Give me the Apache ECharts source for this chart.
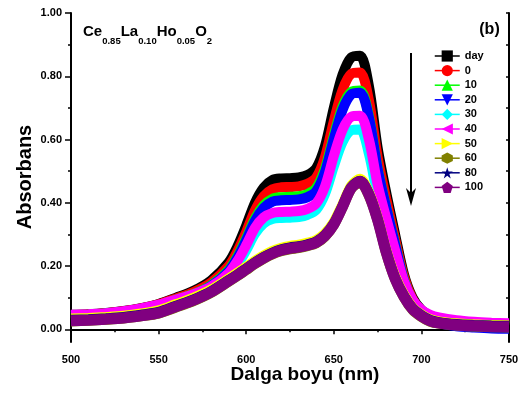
<!DOCTYPE html>
<html>
<head>
<meta charset="utf-8">
<script src="https://cdn.jsdelivr.net/npm/echarts@6/dist/echarts.min.js"></script>
<style>
html, body { margin: 0; padding: 0; background: #fff; }
#chart { width: 522px; height: 394px; }
</style>
</head>
<body>
<div id="chart"></div>
<script>
var wavelength = [500, 510, 520, 530, 540, 550, 560, 570, 580, 590, 595, 600, 605, 610, 615, 620, 625, 630, 635, 640,
  645, 650, 655, 660, 665, 670, 675, 680, 685, 690, 695, 700, 705, 710, 720, 730, 740, 750];

var dayVals = [0.046, 0.048, 0.052, 0.058, 0.067, 0.080, 0.100, 0.122, 0.155, 0.212, 0.262, 0.328, 0.400, 0.448, 0.472, 0.477, 0.478, 0.480, 0.488, 0.510,
  0.580, 0.700, 0.805, 0.860, 0.865, 0.770, 0.575, 0.430, 0.300, 0.175, 0.100, 0.062, 0.044, 0.034, 0.025, 0.021, 0.018, 0.016];
var d0 = [0.045, 0.047, 0.051, 0.057, 0.066, 0.079, 0.098, 0.118, 0.148, 0.200, 0.247, 0.308, 0.376, 0.421, 0.443, 0.449, 0.450, 0.452, 0.460, 0.480,
  0.545, 0.658, 0.757, 0.808, 0.812, 0.725, 0.545, 0.410, 0.285, 0.167, 0.095, 0.058, 0.040, 0.031, 0.022, 0.018, 0.015, 0.013];
var d10 = [0.044, 0.046, 0.050, 0.055, 0.064, 0.076, 0.094, 0.112, 0.140, 0.188, 0.231, 0.288, 0.350, 0.392, 0.413, 0.418, 0.419, 0.421, 0.428, 0.447,
  0.508, 0.612, 0.704, 0.751, 0.755, 0.676, 0.510, 0.385, 0.270, 0.158, 0.090, 0.054, 0.037, 0.028, 0.019, 0.015, 0.012, 0.010];
var d20 = [0.043, 0.045, 0.049, 0.054, 0.063, 0.075, 0.092, 0.110, 0.137, 0.184, 0.226, 0.282, 0.343, 0.384, 0.404, 0.408, 0.409, 0.411, 0.418, 0.437,
  0.498, 0.602, 0.694, 0.743, 0.748, 0.671, 0.508, 0.383, 0.268, 0.155, 0.086, 0.048, 0.030, 0.020, 0.010, 0.006, 0.003, 0.002];
var d30 = [0.044, 0.046, 0.049, 0.054, 0.062, 0.073, 0.088, 0.104, 0.127, 0.168, 0.204, 0.250, 0.302, 0.335, 0.349, 0.352, 0.353, 0.355, 0.362, 0.378,
  0.428, 0.515, 0.592, 0.629, 0.632, 0.556, 0.420, 0.318, 0.225, 0.133, 0.078, 0.048, 0.034, 0.026, 0.019, 0.016, 0.014, 0.013];
var d40 = [0.046, 0.048, 0.051, 0.057, 0.066, 0.078, 0.094, 0.111, 0.135, 0.178, 0.216, 0.266, 0.321, 0.354, 0.368, 0.371, 0.372, 0.374, 0.381, 0.398,
  0.452, 0.548, 0.631, 0.672, 0.675, 0.601, 0.458, 0.350, 0.250, 0.152, 0.093, 0.062, 0.046, 0.038, 0.029, 0.024, 0.021, 0.019];
var d50 = [0.034, 0.036, 0.039, 0.043, 0.050, 0.060, 0.080, 0.100, 0.126, 0.161, 0.179, 0.198, 0.217, 0.234, 0.248, 0.258, 0.264, 0.268, 0.274, 0.283,
  0.304, 0.340, 0.396, 0.455, 0.476, 0.434, 0.354, 0.250, 0.168, 0.111, 0.070, 0.047, 0.032, 0.025, 0.019, 0.016, 0.014, 0.013];
var d60 = [0.025, 0.027, 0.030, 0.034, 0.041, 0.050, 0.069, 0.089, 0.115, 0.150, 0.168, 0.187, 0.206, 0.223, 0.237, 0.247, 0.253, 0.257, 0.263, 0.272,
  0.293, 0.329, 0.385, 0.444, 0.464, 0.422, 0.343, 0.238, 0.157, 0.101, 0.061, 0.039, 0.024, 0.018, 0.012, 0.009, 0.007, 0.006];
var d80 = [0.030, 0.032, 0.035, 0.039, 0.046, 0.055, 0.075, 0.095, 0.121, 0.156, 0.174, 0.193, 0.212, 0.229, 0.243, 0.253, 0.259, 0.263, 0.269, 0.278,
  0.299, 0.335, 0.391, 0.450, 0.470, 0.429, 0.349, 0.245, 0.163, 0.107, 0.067, 0.045, 0.030, 0.023, 0.017, 0.014, 0.012, 0.011];
var d100 = [0.027, 0.029, 0.032, 0.036, 0.043, 0.052, 0.072, 0.092, 0.118, 0.153, 0.171, 0.190, 0.209, 0.226, 0.240, 0.250, 0.256, 0.260, 0.266, 0.275,
  0.296, 0.332, 0.388, 0.447, 0.467, 0.426, 0.346, 0.242, 0.160, 0.104, 0.064, 0.042, 0.027, 0.020, 0.014, 0.011, 0.009, 0.008];

var seriesNames = ['day', '0', '10', '20', '30', '40', '50', '60', '80', '100'];
var seriesVals = [dayVals, d0, d10, d20, d30, d40, d50, d60, d80, d100];
var yLabelTicks = [0, 0.2, 0.4, 0.6, 0.8, 1.0];
var yMinorTicks = [0.1, 0.3, 0.5, 0.7, 0.9];
var yRightTicks = [0, 0.1, 0.2, 0.3, 0.4, 0.5, 0.6, 0.7, 0.8, 0.9, 1.0];

var colors = ['#000000', '#ff0000', '#00ff00', '#0000ff', '#00ffff', '#ff00ff', '#ffff00', '#808000', '#000080', '#800080'];
var symbols = [
  'rect', 'circle', 'triangle',
  'path://M0,0 L10,0 L5,9 Z',
  'diamond',
  'path://M10,0 L10,10 L1,5 Z',
  'path://M0,0 L0,10 L9,5 Z',
  'path://M5,0 L9.33,2.5 L9.33,7.5 L5,10 L0.67,7.5 L0.67,2.5 Z',
  'path://M5,0 L6.2,3.6 L10,3.6 L6.9,5.9 L8.1,9.6 L5,7.3 L1.9,9.6 L3.1,5.9 L0,3.6 L3.8,3.6 Z',
  'path://M5,0 L10,3.7 L8.1,9.6 L1.9,9.6 L0,3.7 Z'
];
var widths = [10, 10, 10, 10, 10, 10, 10, 10, 10, 11];

var FONT = 'Arial, "Liberation Sans", sans-serif';
var chart = echarts.init(document.getElementById('chart'));

var series = seriesNames.map(function (name, i) {
  return {
    name: name,
    type: 'line',
    smooth: 0.3,
    symbol: symbols[i],
    showSymbol: false,
    color: colors[i],
    lineStyle: { width: widths[i], color: colors[i] },
    itemStyle: { color: colors[i] },
    data: wavelength.map(function (w, k) { return [w, seriesVals[i][k]]; }),
    animation: false
  };
});

// formula text with subscripts
var measure = document.createElement('canvas').getContext('2d');
function textW(s, size) {
  measure.font = 'bold ' + size + 'px ' + FONT;
  return measure.measureText(s).width;
}
var formula = [['Ce', 0], ['0.85', 1], ['La', 0], ['0.10', 1], ['Ho', 0], ['0.05', 1], ['O', 0], ['2', 1]];
var fx = 83;
var graphics = [];
formula.forEach(function (p) {
  var size = p[1] ? 9.5 : 15;
  graphics.push({
    type: 'text', x: fx, y: p[1] ? 36.5 : 24.5,
    style: { text: p[0], font: 'bold ' + size + 'px ' + FONT, fill: '#000', textAlign: 'left', textVerticalAlign: 'top' }
  });
  fx += textW(p[0], size);
});
graphics.push({
  type: 'text', x: 489.5, y: 30,
  style: { text: '(b)', font: 'bold 16px ' + FONT, fill: '#000', textAlign: 'center', textVerticalAlign: 'middle' }
});
graphics.push({
  type: 'text', x: 25, y: 177, rotation: Math.PI / 2,
  style: { text: 'Absorbans', font: 'bold 20px ' + FONT, fill: '#000', textAlign: 'center', textVerticalAlign: 'middle' }
});
graphics.push({
  type: 'text', x: 305, y: 375,
  style: { text: 'Dalga boyu (nm)', font: 'bold 19px ' + FONT, fill: '#000', textAlign: 'center', textVerticalAlign: 'middle' }
});
// arrow
graphics.push({
  type: 'line', shape: { x1: 411, y1: 53, x2: 411, y2: 195 },
  style: { stroke: '#000', lineWidth: 2 }
});
graphics.push({
  type: 'polygon', shape: { points: [[411, 206], [406, 188], [411, 193], [416, 188]] },
  style: { fill: '#000' }
});

var option = {
  backgroundColor: '#fff',
  animation: false,
  grid: { left: 71, top: 13, right: 13, bottom: 52 },
  legend: {
    orient: 'vertical', left: 429, top: 44,
    itemWidth: 25, itemHeight: 14, itemGap: 0.6,
    textStyle: { fontFamily: FONT, fontWeight: 'bold', fontSize: 11, color: '#000', lineHeight: 14 },
    lineStyle: { width: 1.5 },
    data: seriesNames
  },
  xAxis: [{
    type: 'value', min: 500, max: 750, interval: 50, position: 'bottom',
    axisLine: { lineStyle: { color: '#000', width: 2 } },
    axisTick: { length: 5, lineStyle: { color: '#000', width: 1.5 } },
    minorTick: { show: true, splitNumber: 2, length: 3, lineStyle: { color: '#000', width: 1.5 } },
    splitLine: { show: false },
    axisLabel: { margin: 12, color: '#000', fontFamily: FONT, fontWeight: 'bold', fontSize: 11 }
  }, {
    type: 'value', min: 500, max: 750, position: 'top',
    axisLine: { lineStyle: { color: '#000', width: 2 } },
    axisTick: { show: false }, axisLabel: { show: false }, splitLine: { show: false }
  }],
  yAxis: [{
    type: 'value', min: -0.04, max: 1.0, position: 'left',
    axisLine: { show: true, lineStyle: { color: '#000', width: 2 } },
    axisTick: { show: true, length: 6, customValues: yLabelTicks, lineStyle: { color: '#000', width: 1.5 } },
    splitLine: { show: false },
    axisLabel: {
      margin: 9, color: '#000', fontFamily: FONT, fontWeight: 'bold', fontSize: 11,
      customValues: yLabelTicks,
      formatter: function (v) { return v.toFixed(2); }
    }
  }, {
    type: 'value', min: -0.04, max: 1.0, position: 'left',
    axisLine: { show: false },
    axisTick: { show: true, length: 3, customValues: yMinorTicks, lineStyle: { color: '#000', width: 1.5 } },
    axisLabel: { show: false }, splitLine: { show: false }
  }, {
    type: 'value', min: -0.04, max: 1.0, position: 'right',
    axisLine: { show: true, lineStyle: { color: '#000', width: 2 } },
    axisTick: { show: true, inside: true, length: 3, customValues: yRightTicks, lineStyle: { color: '#000', width: 1.5 } },
    axisLabel: { show: false }, splitLine: { show: false }
  }],
  graphic: graphics,
  series: series
};
chart.setOption(option);
</script>
</body>
</html>
